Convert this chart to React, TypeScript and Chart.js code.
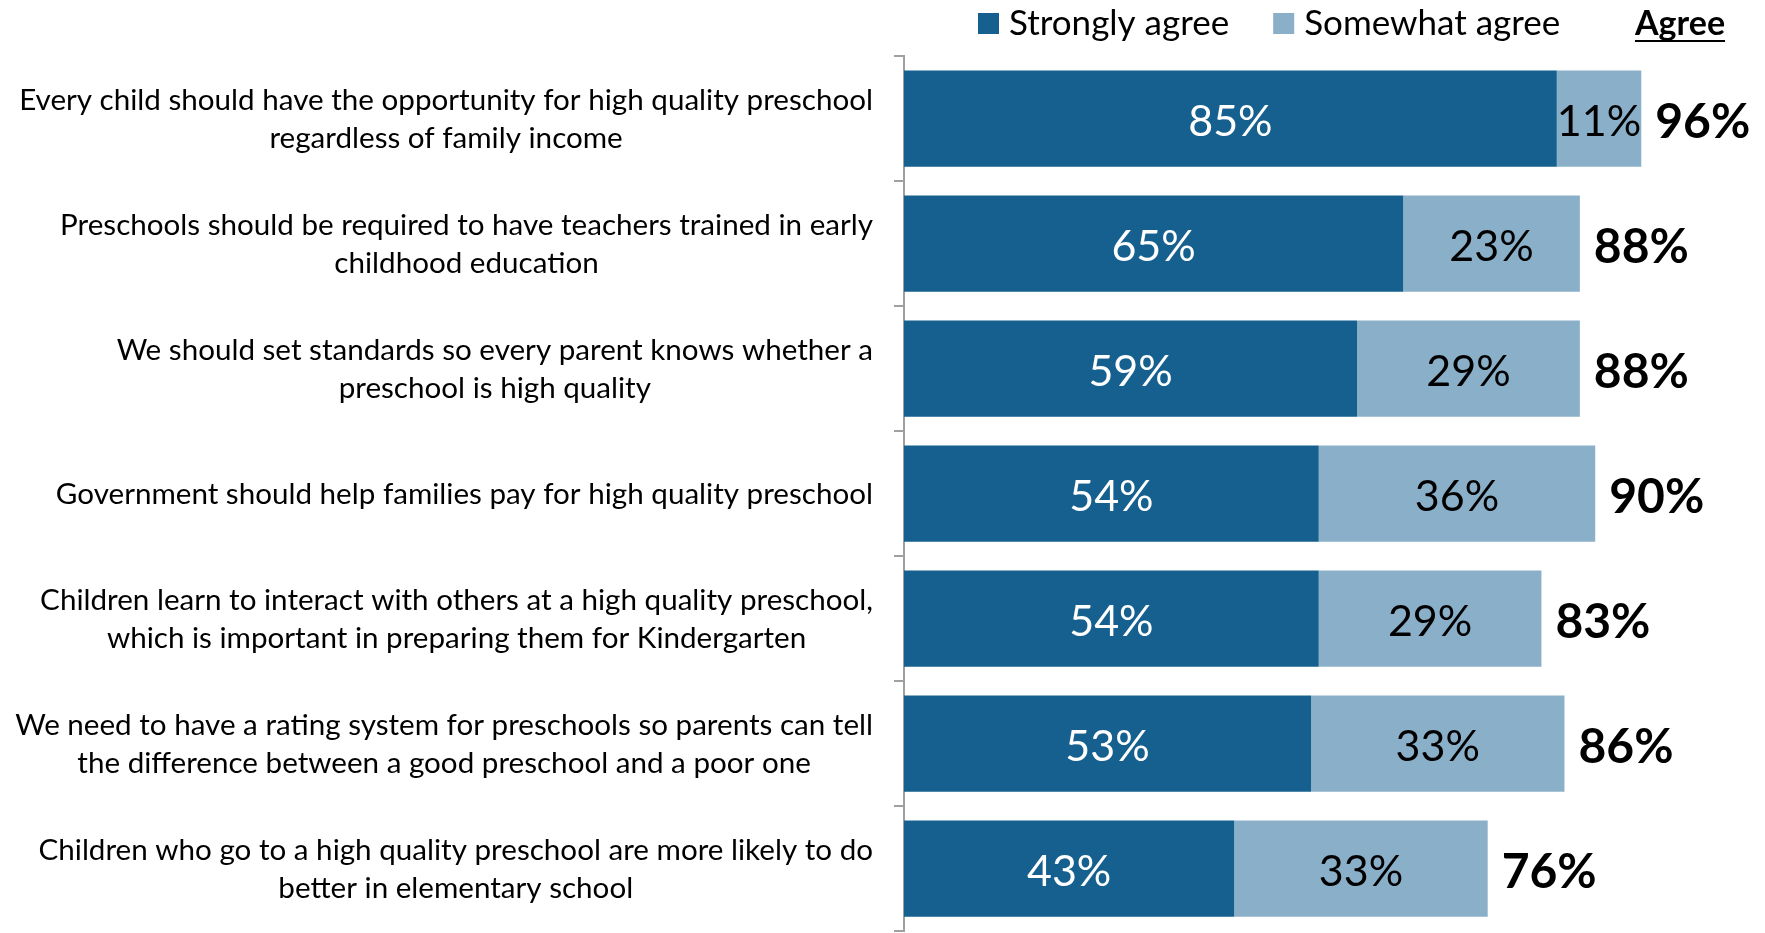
import React, { useEffect, useRef } from 'react';
import { Chart, registerables } from 'chart.js';

Chart.register(...registerables);

const categories: (string | string[])[] = [
  ['Every child should have the opportunity for high quality preschool', 'regardless of family income'],
  ['Preschools should be required to have teachers trained in early', 'childhood education'],
  ['We should set standards so every parent knows whether a', 'preschool is high quality'],
  'Government should help families pay for high quality preschool',
  ['Children learn to interact with others at a high quality preschool,', 'which is important in preparing them for Kindergarten'],
  ['We need to have a rating system for preschools so parents can tell', 'the difference between a good preschool and a poor one'],
  ['Children who go to a high quality preschool are more likely to do', 'better in elementary school'],
];
const stronglyAgree = [85, 65, 59, 54, 54, 53, 43];
const somewhatAgree = [11, 23, 29, 36, 29, 33, 33];
const totalAgree = [96, 88, 88, 90, 83, 86, 76];
const seriesNames = ['Strongly agree', 'Somewhat agree'];
const totalHeader = 'Agree';

const FONT = 'Lato, "Open Sans", sans-serif';
const DARK = '#15608F';
const LIGHT = '#8AAFC8';

export default function App() {
  const ref = useRef<HTMLCanvasElement>(null);

  useEffect(() => {
    if (!ref.current) return;

    const labelPlugin = {
      id: 'customLabels',
      afterDraw(chart: any) {
        const ctx = chart.ctx as CanvasRenderingContext2D;
        const area = chart.chartArea;
        const yScale = chart.scales.y;
        ctx.save();

        // category labels: block right-aligned, lines centred within block
        ctx.font = `29.6px ${FONT}`;
        ctx.fillStyle = '#000';
        ctx.textBaseline = 'middle';
        ctx.textAlign = 'center';
        const lineH = 38;
        categories.forEach((c, i) => {
          const lines = Array.isArray(c) ? c : [c];
          const blockW = Math.max(...lines.map((l) => ctx.measureText(l).width));
          const cx = area.left - 31 - blockW / 2;
          const cy = yScale.getPixelForValue(i);
          lines.forEach((l, j) => {
            ctx.fillText(l, cx, cy + (j - (lines.length - 1) / 2) * lineH + 1);
          });
        });

        // value labels in segments
        ctx.font = `43px ${FONT}`;
        chart.data.datasets.forEach((ds: any, di: number) => {
          const meta = chart.getDatasetMeta(di);
          ctx.fillStyle = di === 0 ? '#FFFFFF' : '#000000';
          meta.data.forEach((el: any, i: number) => {
            const v = ds.data[i];
            ctx.fillText(`${v}%`, (el.x + el.base) / 2, el.y + 4);
          });
        });

        // totals
        ctx.font = `bold 48px ${FONT}`;
        ctx.fillStyle = '#000';
        ctx.textAlign = 'left';
        const lastMeta = chart.getDatasetMeta(chart.data.datasets.length - 1);
        lastMeta.data.forEach((el: any, i: number) => {
          ctx.fillText(`${totalAgree[i]}%`, el.x + 14, el.y + 4);
        });

        // legend
        ctx.textBaseline = 'alphabetic';
        ctx.font = `35px ${FONT}`;
        let x = 978;
        chart.data.datasets.forEach((ds: any) => {
          ctx.fillStyle = ds.backgroundColor;
          ctx.fillRect(x, 13, 21, 21);
          ctx.fillStyle = '#000';
          ctx.textAlign = 'left';
          ctx.fillText(ds.label, x + 31, 35);
          x += 31 + ctx.measureText(ds.label).width + 44;
        });

        // header "Agree"
        ctx.font = `bold 34px ${FONT}`;
        ctx.textAlign = 'center';
        const hx = 1680;
        ctx.fillText(totalHeader, hx, 35);
        const hw = ctx.measureText(totalHeader).width;
        ctx.fillRect(hx - hw / 2, 40, hw, 2);

        ctx.restore();
      },
    };

    const chart = new Chart(ref.current, {
      type: 'bar',
      data: {
        labels: categories.map((c) => (Array.isArray(c) ? c.join(' ') : c)),
        datasets: [
          {
            label: seriesNames[0],
            data: stronglyAgree,
            backgroundColor: DARK,
            barPercentage: 0.77,
            categoryPercentage: 1,
          },
          {
            label: seriesNames[1],
            data: somewhatAgree,
            backgroundColor: LIGHT,
            barPercentage: 0.77,
            categoryPercentage: 1,
          },
        ],
      },
      options: {
        indexAxis: 'y',
        responsive: true,
        maintainAspectRatio: false,
        animation: false,
        layout: { padding: { top: 56, bottom: 2, right: 93, left: 0 } },
        plugins: { legend: { display: false }, tooltip: { enabled: false } },
        scales: {
          x: { stacked: true, min: 0, max: 100, display: false },
          y: {
            stacked: true,
            grid: {
              display: true,
              drawOnChartArea: false,
              drawTicks: true,
              tickLength: 10,
              color: '#A0A0A0',
              lineWidth: 2,
              offset: true,
            },
            border: { display: true, color: '#A0A0A0', width: 2 },
            ticks: { display: false },
            afterFit(s: any) {
              s.width = 904;
              s.paddingTop = 0;
              s.paddingBottom = 0;
            },
          },
        },
      },
      plugins: [labelPlugin],
    } as any);

    return () => chart.destroy();
  }, []);

  return (
    <div style={{ position: 'absolute', left: 0, top: 0, width: 1765, height: 933 }}>
      <canvas ref={ref} />
    </div>
  );
}
